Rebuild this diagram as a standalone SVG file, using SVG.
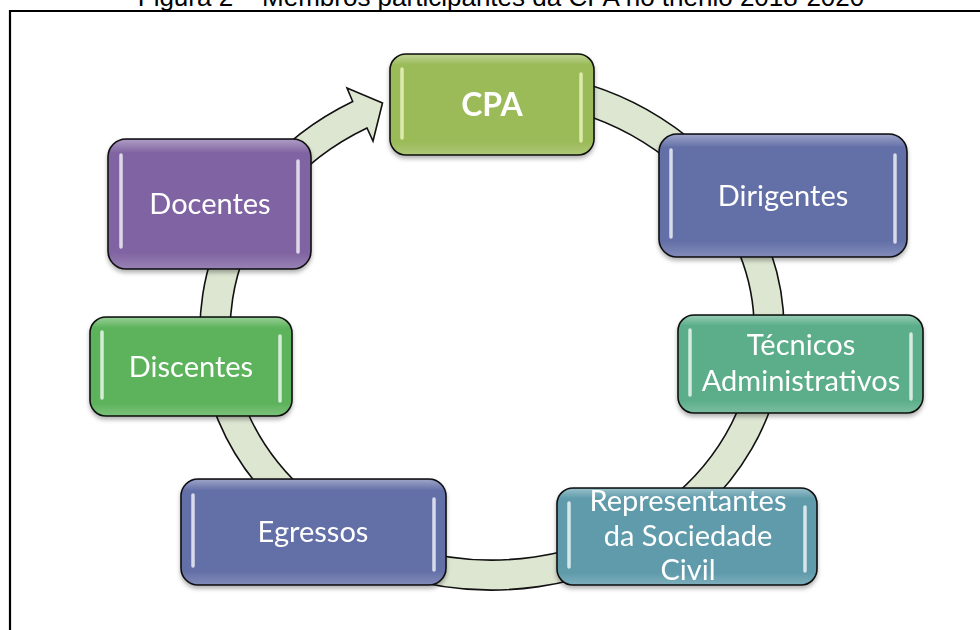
<svg xmlns="http://www.w3.org/2000/svg" width="980" height="630" viewBox="0 0 980 630">
<defs>
<filter id="sh" x="-10%" y="-10%" width="120%" height="130%">
<feDropShadow dx="0" dy="3" stdDeviation="2" flood-color="#000" flood-opacity="0.3"/>
</filter>
<linearGradient id="gloss" x1="0" y1="0" x2="0" y2="1">
<stop offset="0" stop-color="#fff" stop-opacity="0.35"/>
<stop offset="0.1" stop-color="#fff" stop-opacity="0"/>
<stop offset="0.88" stop-color="#fff" stop-opacity="0"/>
<stop offset="1" stop-color="#fff" stop-opacity="0.18"/>
</linearGradient>
</defs>
<style>
.box{stroke:#111;stroke-width:1.6}
.gl{fill:url(#gloss)}
.bar{stroke:#fff;stroke-opacity:0.75;stroke-width:3.5;stroke-linecap:round}
.t{font-family:Lato,"Liberation Sans",sans-serif;font-size:29px;fill:#fff;text-anchor:middle}
.ring{fill:#DDE6D1;stroke:#111;stroke-width:1.6;stroke-linejoin:miter}
</style>
<rect width="980" height="630" fill="#fff"/>
<text x="501" y="6" font-family="'Liberation Sans',Arial,sans-serif" font-size="26" fill="#000" text-anchor="middle">Figura 2 – Membros participantes da CPA no triênio 2018-2020</text>
<path d="M10,632 V11 H982" fill="none" stroke="#000" stroke-width="2.2"/>
<g id="connectors">
<path class="ring" d="M543,74 A292,260 0 1 1 352.7,101.5 L347,88 L382.5,103 L373,141 L367,128 A262,230 0 1 0 537.5,103.5 Z"/>
</g>
<g id="node-cpa" filter="url(#sh)">
<rect class="box" x="390" y="54" width="204" height="101" rx="16" fill="#9BBB59"/>
<rect class="gl" x="391" y="55" width="202" height="99" rx="15"/>
<line class="bar" x1="402" y1="69" x2="402" y2="138" style="stroke:#F2FBC8"/>
<line class="bar" x1="581" y1="74" x2="581" y2="141" style="stroke:#F2FBC8"/>
<text class="t" x="492" y="116" font-weight="bold" style="font-size:32px">CPA</text>
</g>
<g id="node-dirigentes" filter="url(#sh)">
<rect class="box" x="659" y="134" width="248" height="123" rx="18" fill="#6470A8"/>
<rect class="gl" x="660" y="135" width="246" height="121" rx="17"/>
<line class="bar" x1="671" y1="150" x2="671" y2="237"/>
<line class="bar" x1="895" y1="155" x2="895" y2="242"/>
<text class="t" x="783" y="206">Dirigentes</text>
</g>
<g id="node-tecnicos" filter="url(#sh)">
<rect class="box" x="678" y="315" width="245" height="98" rx="16" fill="#5BAE8A"/>
<rect class="gl" x="679" y="316" width="243" height="96" rx="15"/>
<line class="bar" x1="690" y1="330" x2="690" y2="395"/>
<line class="bar" x1="911" y1="334" x2="911" y2="399"/>
<text class="t" x="801" y="355">Técnicos</text>
<text class="t" x="801" y="391">Administrativos</text>
</g>
<g id="node-representantes" filter="url(#sh)">
<rect class="box" x="557" y="488" width="260" height="97" rx="16" fill="#5F9BAB"/>
<rect class="gl" x="558" y="489" width="258" height="95" rx="15"/>
<line class="bar" x1="569" y1="503" x2="569" y2="567"/>
<line class="bar" x1="805" y1="507" x2="805" y2="571"/>
<text class="t" x="688" y="511">Representantes</text>
<text class="t" x="688" y="546">da Sociedade</text>
<text class="t" x="688" y="580">Civil</text>
</g>
<g id="node-egressos" filter="url(#sh)">
<rect class="box" x="181" y="479" width="265" height="106" rx="17" fill="#6470A8"/>
<rect class="gl" x="182" y="480" width="263" height="104" rx="16"/>
<line class="bar" x1="193" y1="495" x2="193" y2="566"/>
<line class="bar" x1="434" y1="499" x2="434" y2="570"/>
<text class="t" x="313" y="542">Egressos</text>
</g>
<g id="node-discentes" filter="url(#sh)">
<rect class="box" x="90" y="317" width="202" height="99" rx="16" fill="#5DB35C"/>
<rect class="gl" x="91" y="318" width="200" height="97" rx="15"/>
<line class="bar" x1="102" y1="332" x2="102" y2="398"/>
<line class="bar" x1="280" y1="336" x2="280" y2="401"/>
<text class="t" x="191" y="377">Discentes</text>
</g>
<g id="node-docentes" filter="url(#sh)">
<rect class="box" x="108" y="139" width="203" height="130" rx="18" fill="#8064A2"/>
<rect class="gl" x="109" y="140" width="201" height="128" rx="17"/>
<line class="bar" x1="121" y1="155" x2="121" y2="247"/>
<line class="bar" x1="298" y1="161" x2="298" y2="252"/>
<text class="t" x="210" y="214">Docentes</text>
</g>
</svg>
